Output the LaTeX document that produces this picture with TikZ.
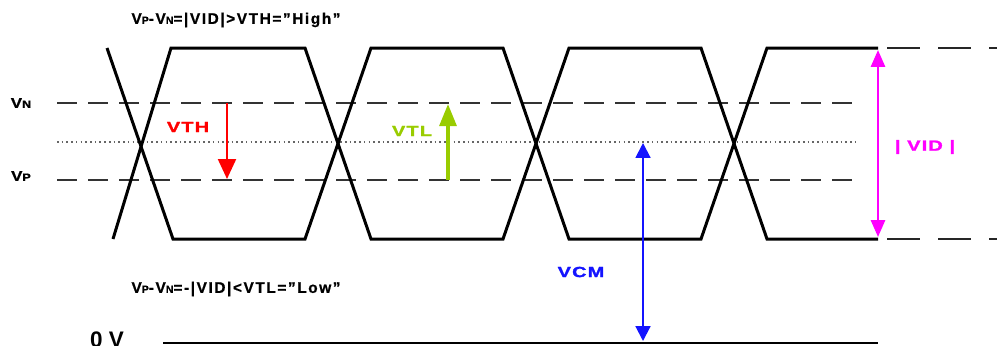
\documentclass[tikz,border=0pt]{standalone}
\usepackage{fontspec}
\setmainfont{Liberation Sans}
\usetikzlibrary{arrows.meta}
\newcommand{\lo}[1]{{\fontsize{7.5}{8}\selectfont #1}}

\begin{document}
\begin{tikzpicture}[x=0.025cm,y=-0.025cm,
    wave/.style={line width=0.075cm,line join=miter},
    vline/.style={line width=0.055cm,color=black!80,dash pattern=on 0.5cm off 0.275cm},
    rail/.style={line width=0.055cm,color=black!85,dash pattern=on 0.825cm off 0.45cm},
    midline/.style={line width=0.035cm,color=black!60,dash pattern=on 0.04cm off 0.078cm},
    lbl/.style={font=\bfseries\fontsize{10}{12}\selectfont\addfontfeature{FakeStretch=1.2,LetterSpace=5,FakeBold=1},inner sep=0pt},
    tag/.style={font=\bfseries\fontsize{10.5}{12}\selectfont\addfontfeature{FakeStretch=1.35,LetterSpace=8,FakeBold=1.5},inner sep=0pt},
    eqn/.style={font=\bfseries\fontsize{11}{13}\selectfont\addfontfeature{LetterSpace=10,FakeBold=0.6},inner sep=0pt}]
    \definecolor{vth_red}{RGB}{255,0,0}
    \definecolor{vtl_green}{RGB}{153,204,0}
    \definecolor{vcm_blue}{RGB}{20,20,255}
    \definecolor{vid_pink}{RGB}{255,0,255}
    \useasboundingbox (0,0) rectangle (997,345);

    % reference levels
    \draw[vline] (57,103) to (857,103);
    \draw[vline] (57,180) to (857,180);
    \draw[midline] (57,142) to (857,142);
    \draw[rail] (887,48) to (997,48);
    \draw[rail] (887,239) to (997,239);
    \draw[line width=0.06cm] (163,343) to (878,343);

    % eye pattern
    \draw[wave] (107,48) to (173,239) to (305,239) to (371,48) to (503,48) to (569,239) to (701,239) to (767,48) to (878,48);
    \draw[wave] (113,239) to (171,48) to (305,48) to (371,239) to (503,239) to (569,48) to (701,48) to (767,239) to (878,239);

    % labels
    \node[lbl] (vn) at (21,103) {V\lo{N}};
    \node[lbl] (vp) at (21,176) {V\lo{P}};
    \node[eqn] (high) at (236,20) {V\lo{P}-V\lo{N}=|VID|>VTH=”High”};
    \node[eqn] (low) at (236,289) {V\lo{P}-V\lo{N}=-|VID|<VTL=”Low”};
    \node[lbl,font=\bfseries\fontsize{16}{18}\selectfont,anchor=north] (zero) at (107,331) {0 V};

    % thresholds
    \coordinate (thtop) at (227,103);
    \coordinate (thbot) at (227,179);
    \draw[-{Triangle[width=0.45cm,length=0.5cm]},line width=0.055cm,color=vth_red] (thtop) to (thbot);
    \node[tag,color=vth_red] (vth) at (188,127) {VTH};

    \coordinate (tlbot) at (448,180);
    \coordinate (tltop) at (448,104);
    \draw[-{Triangle[width=0.42cm,length=0.55cm]},line width=0.09cm,color=vtl_green] (tlbot) to (tltop);
    \node[tag,color=vtl_green] (vtl) at (412,131) {VTL};

    \coordinate (cmtop) at (643,143);
    \coordinate (cmbot) at (643,341);
    \draw[{Triangle[width=0.37cm,length=0.37cm]}-{Triangle[width=0.37cm,length=0.37cm]},line width=0.05cm,color=vcm_blue] (cmtop) to (cmbot);
    \node[tag,color=vcm_blue] (vcm) at (581,272) {VCM};

    \coordinate (idtop) at (878,50);
    \coordinate (idbot) at (878,237);
    \draw[{Triangle[width=0.35cm,length=0.42cm]}-{Triangle[width=0.35cm,length=0.42cm]},line width=0.06cm,color=vid_pink] (idtop) to (idbot);
    \node[tag,color=vid_pink] (vid) at (925,147) {| VID |};
\end{tikzpicture}
\end{document}
